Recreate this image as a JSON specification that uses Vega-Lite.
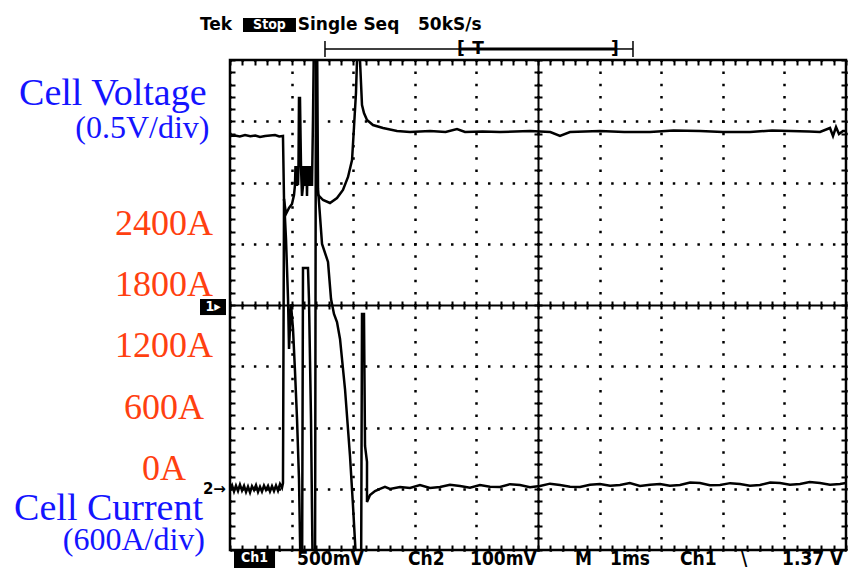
{
"$schema": "https://vega.github.io/schema/vega-lite/v6.json",
"width": 616, "height": 490,
"autosize": {"type": "none"},
"padding": {"left": 230, "top": 60, "right": 5, "bottom": 19},
"background": "white",
"config": {
  "view": {"stroke": "black", "strokeWidth": 2.5},
  "axis": {"labels": false, "domain": false, "ticks": false, "grid": false, "tickColor": "black", "tickWidth": 2, "domainColor": "black", "domainWidth": 2, "gridColor": "black", "gridOpacity": 1}
},
"datasets": {
  "ch1": [
    {"t":0,"v":1.38},{"t":0.08,"v":1.384},{"t":0.16,"v":1.376},{"t":0.244,"v":1.388},{"t":0.33,"v":1.378},{"t":0.41,"v":1.384},{"t":0.487,"v":1.371},{"t":0.57,"v":1.38},{"t":0.65,"v":1.384},{"t":0.731,"v":1.388},{"t":0.8,"v":1.376},{"t":0.86,"v":1.38},
    {"t":0.877,"v":0.857},{"t":0.909,"v":0.743},{"t":0.958,"v":0.792},{"t":1.006,"v":0.824},{"t":1.039,"v":0.898},
    {"t":1.055,"v":0.98},{"t":1.063,"v":1.135},{"t":1.071,"v":0.971},{"t":1.079,"v":1.135},{"t":1.088,"v":0.971},{"t":1.096,"v":1.135},{"t":1.104,"v":0.98},{"t":1.112,"v":1.135},
    {"t":1.12,"v":1.69},{"t":1.136,"v":1.69},{"t":1.153,"v":1.118},{"t":1.169,"v":0.89},
    {"t":1.185,"v":0.971},{"t":1.193,"v":1.135},{"t":1.201,"v":0.971},{"t":1.209,"v":1.135},{"t":1.218,"v":0.971},{"t":1.226,"v":1.135},{"t":1.234,"v":0.971},{"t":1.242,"v":1.135},{"t":1.25,"v":0.89},{"t":1.258,"v":1.135},{"t":1.266,"v":0.971},{"t":1.274,"v":1.135},{"t":1.282,"v":0.971},{"t":1.291,"v":1.135},{"t":1.299,"v":0.971},{"t":1.307,"v":1.135},{"t":1.315,"v":0.98},{"t":1.323,"v":1.118},{"t":1.331,"v":0.971},
    {"t":1.347,"v":1.51},{"t":1.364,"v":2.245},{"t":1.396,"v":2.245},{"t":1.412,"v":0.939},{"t":1.429,"v":0.898},
    {"t":1.51,"v":0.857},{"t":1.623,"v":0.833},{"t":1.737,"v":0.873},{"t":1.834,"v":0.939},{"t":1.916,"v":1.045},{"t":1.981,"v":1.184},{"t":2.013,"v":1.453},{"t":2.045,"v":1.731},{"t":2.062,"v":2.0},{"t":2.078,"v":2.33},{"t":2.094,"v":2.33},{"t":2.11,"v":2.0},{"t":2.143,"v":1.633},{"t":2.175,"v":1.567},{"t":2.224,"v":1.51},{"t":2.321,"v":1.469},{"t":2.484,"v":1.445},{"t":2.711,"v":1.42},{"t":2.922,"v":1.412},{"t":3.247,"v":1.42},{"t":3.5,"v":1.412},{"t":3.685,"v":1.437},{"t":3.815,"v":1.412},{"t":4.1,"v":1.416},{"t":4.383,"v":1.412},{"t":4.87,"v":1.42},{"t":5.2,"v":1.412},{"t":5.357,"v":1.38},{"t":5.519,"v":1.412},{"t":6.006,"v":1.42},{"t":6.4,"v":1.412},{"t":6.818,"v":1.412},{"t":7.2,"v":1.424},{"t":7.63,"v":1.42},{"t":8.0,"v":1.412},{"t":8.442,"v":1.412},{"t":8.8,"v":1.424},{"t":9.091,"v":1.42},{"t":9.4,"v":1.416},{"t":9.578,"v":1.412},{"t":9.74,"v":1.445},{"t":9.789,"v":1.38},{"t":9.838,"v":1.453},{"t":9.886,"v":1.396},{"t":9.951,"v":1.42},{"t":10.0,"v":1.42}
  ],
  "ch2": [
    {"t":0,"i":-2},{"t":0.033,"i":35},{"t":0.065,"i":-27},{"t":0.097,"i":30},{"t":0.13,"i":-22},{"t":0.162,"i":40},{"t":0.195,"i":-18},{"t":0.228,"i":28},{"t":0.26,"i":-32},{"t":0.292,"i":20},{"t":0.325,"i":-37},{"t":0.357,"i":25},{"t":0.39,"i":-12},{"t":0.422,"i":35},{"t":0.455,"i":-31},{"t":0.487,"i":18},{"t":0.519,"i":-28},{"t":0.552,"i":30},{"t":0.584,"i":-12},{"t":0.617,"i":27},{"t":0.649,"i":-27},{"t":0.682,"i":25},{"t":0.714,"i":-22},{"t":0.747,"i":32},{"t":0.779,"i":-18},{"t":0.812,"i":47},{"t":0.844,"i":10},{"t":0.86,"i":55},
    {"t":0.877,"i":2839},{"t":0.909,"i":2447},{"t":0.942,"i":1860},{"t":0.958,"i":1370},{"t":0.99,"i":1807},{"t":1.023,"i":1563},{"t":1.055,"i":1152},{"t":1.088,"i":684},{"t":1.12,"i":96},{"t":1.153,"i":-1080},{"t":1.169,"i":-1080},{"t":1.185,"i":2163},{"t":1.266,"i":2163},{"t":1.282,"i":1859},{"t":1.315,"i":684},{"t":1.347,"i":-1080},{"t":1.38,"i":-1080},{"t":1.396,"i":4600},{"t":1.412,"i":4600},{"t":1.429,"i":2937},{"t":1.494,"i":2398},{"t":1.591,"i":2222},{"t":1.64,"i":1859},{"t":1.688,"i":1712},{"t":1.737,"i":1633},{"t":1.786,"i":1467},{"t":1.867,"i":977},{"t":1.948,"i":321},{"t":1.997,"i":-169},{"t":2.045,"i":-688},{"t":2.127,"i":-1080},{"t":2.143,"i":1712},{"t":2.175,"i":1712},{"t":2.192,"i":419},{"t":2.224,"i":263},{"t":2.224,"i":-129},{"t":2.273,"i":-61},{"t":2.354,"i":-22},{"t":2.435,"i":-2},{"t":2.516,"i":18},{"t":2.597,"i":-2},{"t":2.76,"i":18},{"t":2.922,"i":8},{"t":3.084,"i":37},{"t":3.247,"i":8},{"t":3.409,"i":18},{"t":3.571,"i":40},{"t":3.734,"i":27},{"t":3.896,"i":10},{"t":4.058,"i":37},{"t":4.22,"i":20},{"t":4.383,"i":18},{"t":4.545,"i":45},{"t":4.708,"i":37},{"t":4.87,"i":15},{"t":5.032,"i":27},{"t":5.195,"i":50},{"t":5.357,"i":37},{"t":5.52,"i":20},{"t":5.682,"i":18},{"t":5.844,"i":40},{"t":6.006,"i":47},{"t":6.17,"i":30},{"t":6.331,"i":37},{"t":6.49,"i":55},{"t":6.656,"i":27},{"t":6.82,"i":40},{"t":6.981,"i":47},{"t":7.14,"i":30},{"t":7.305,"i":37},{"t":7.47,"i":60},{"t":7.63,"i":57},{"t":7.79,"i":35},{"t":7.955,"i":37},{"t":8.12,"i":55},{"t":8.279,"i":47},{"t":8.44,"i":30},{"t":8.604,"i":37},{"t":8.77,"i":60},{"t":8.929,"i":57},{"t":9.09,"i":40},{"t":9.253,"i":47},{"t":9.41,"i":65},{"t":9.578,"i":57},{"t":9.74,"i":40},{"t":9.903,"i":47},{"t":10.0,"i":57}
  ],
  "currentLabels": [
    {"label":"0A","i":0},{"label":"600A","i":600},{"label":"1200A","i":1200},{"label":"1800A","i":1800},{"label":"2400A","i":2400}
  ],
  "header": [
    {"label":"Tek","t":-0.487,"v":2.241},{"label":"Single Seq","t":1.1,"v":2.241},{"label":"50kS/s","t":3.052,"v":2.241}
  ],
  "status": [
    {"label":"500mV","t":1.088,"v":-2.122},{"label":"Ch2","t":2.89,"v":-2.122},{"label":"100mV","t":3.896,"v":-2.122},{"label":"M","t":5.601,"v":-2.122},{"label":"1ms","t":6.169,"v":-2.122},{"label":"Ch1","t":7.305,"v":-2.122},{"label":"\\","t":8.295,"v":-2.122},{"label":"1.37 V","t":8.961,"v":-2.122}
  ],
  "boxes": [
    {"name":"Stop","t":0.211,"t2":1.071,"v":2.343,"v2":2.229},
    {"name":"Ch1","t":0.065,"t2":0.731,"v":-1.992,"v2":-2.147},
    {"name":"ground1","t":-0.487,"t2":-0.065,"v":0.049,"v2":-0.082}
  ],
  "boxText": [
    {"label":"Stop","t":0.641,"v":2.286},{"label":"Ch1","t":0.398,"v":-2.065},{"label":"1▸","t":-0.276,"v":-0.016}
  ],
  "record": [
    {"seg":"record","t":1.542,"t2":3.75,"v":2.09,"v2":2.09},
    {"seg":"window","t":3.75,"t2":6.25,"v":2.09,"v2":2.09},
    {"seg":"record","t":6.25,"t2":6.542,"v":2.09,"v2":2.09},
    {"seg":"record","t":1.542,"t2":1.542,"v":2.155,"v2":2.024},
    {"seg":"record","t":6.542,"t2":6.542,"v":2.155,"v2":2.024}
  ],
  "brackets": [
    {"label":"[","t":3.75,"v":2.09},{"label":"T","t":4.026,"v":2.09},{"label":"]","t":6.25,"v":2.09}
  ],
  "titles": [
    {"label":"Cell Voltage","t":-0.38,"v":1.633},{"label":"Cell Current","t":-0.438,"v":-1.755}
  ],
  "subs": [
    {"label":"(0.5V/div)","t":-0.333,"v":1.363},{"label":"(600A/div)","t":-0.406,"v":-2.0}
  ],
  "ground2": [
    {"label":"2→","t":-0.44,"i":0}
  ]
},
"resolve": {"scale": {"y": "independent"}, "axis": {"x": "independent", "y": "independent"}},
"layer": [
  {
    "resolve": {"axis": {"x": "independent", "y": "independent"}},
    "layer": [
      {
        "data": {"name": "ch1"},
        "mark": {"type": "line", "color": "black", "strokeWidth": 2.5, "clip": true},
        "encoding": {
          "x": {"field": "t", "type": "quantitative", "scale": {"domain": [0, 10], "nice": false, "zero": false},
                "axis": {"orient": "bottom", "grid": true, "tickCount": 10, "gridDash": [2.5, 9.75], "gridDashOffset": 1.25, "gridWidth": 2.5, "title": null}},
          "y": {"field": "v", "type": "quantitative", "scale": {"domain": [-2, 2], "nice": false, "zero": false},
                "axis": {"orient": "left", "grid": true, "tickCount": 8, "gridDash": [2.5, 9.82], "gridDashOffset": 1.25, "gridWidth": 2.5, "title": null}},
          "order": {"value": null}
        }
      },
      {
        "data": {"name": "header"},
        "mark": {"type": "text", "align": "left", "baseline": "alphabetic", "font": "DejaVu Sans", "fontWeight": "bold", "fontSize": 17, "color": "black"},
        "encoding": {
          "x": {"field": "t", "type": "quantitative", "axis": {"orient": "top", "offset": -490, "ticks": true, "tickSize": 5, "tickCount": 50, "title": null}},
          "y": {"field": "v", "type": "quantitative", "axis": {"orient": "right", "offset": -616, "ticks": true, "tickSize": 5, "tickCount": 40, "title": null}},
          "text": {"field": "label"}
        }
      },
      {
        "data": {"name": "status"},
        "mark": {"type": "text", "align": "left", "baseline": "alphabetic", "font": "DejaVu Sans Condensed", "fontWeight": "bold", "fontSize": 19, "color": "black"},
        "encoding": {
          "x": {"field": "t", "type": "quantitative", "axis": {"orient": "bottom", "offset": -490, "ticks": true, "tickSize": 5, "tickCount": 50, "title": null}},
          "y": {"field": "v", "type": "quantitative", "axis": {"orient": "left", "offset": -616, "ticks": true, "tickSize": 5, "tickCount": 40, "title": null}},
          "text": {"field": "label"}
        }
      },
      {
        "data": {"name": "titles"},
        "mark": {"type": "text", "align": "right", "baseline": "alphabetic", "font": "Liberation Serif", "fontSize": 38, "color": "#1414ff"},
        "encoding": {
          "x": {"field": "t", "type": "quantitative", "axis": {"orient": "top", "offset": -245, "domain": true, "ticks": true, "tickSize": 4, "tickCount": 50, "title": null}},
          "y": {"field": "v", "type": "quantitative", "axis": {"orient": "right", "offset": -308, "domain": true, "ticks": true, "tickSize": 4, "tickCount": 40, "title": null}},
          "text": {"field": "label"}
        }
      },
      {
        "data": {"name": "subs"},
        "mark": {"type": "text", "align": "right", "baseline": "alphabetic", "font": "Liberation Serif", "fontSize": 32, "color": "#1414ff"},
        "encoding": {
          "x": {"field": "t", "type": "quantitative", "axis": {"orient": "bottom", "offset": -245, "ticks": true, "tickSize": 4, "tickCount": 50, "title": null}},
          "y": {"field": "v", "type": "quantitative", "axis": {"orient": "left", "offset": -308, "ticks": true, "tickSize": 4, "tickCount": 40, "title": null}},
          "text": {"field": "label"}
        }
      },
      {
        "data": {"name": "boxes"},
        "mark": {"type": "rect", "color": "black"},
        "encoding": {
          "x": {"field": "t", "type": "quantitative", "axis": null},
          "x2": {"field": "t2"},
          "y": {"field": "v", "type": "quantitative", "axis": null},
          "y2": {"field": "v2"}
        }
      },
      {
        "data": {"name": "boxText"},
        "mark": {"type": "text", "align": "center", "baseline": "middle", "font": "DejaVu Sans Condensed", "fontWeight": "bold", "fontSize": 14, "color": "white"},
        "encoding": {
          "x": {"field": "t", "type": "quantitative", "axis": null},
          "y": {"field": "v", "type": "quantitative", "axis": null},
          "text": {"field": "label"}
        }
      },
      {
        "data": {"name": "record"},
        "mark": {"type": "rule", "color": "black"},
        "encoding": {
          "x": {"field": "t", "type": "quantitative", "axis": null},
          "x2": {"field": "t2"},
          "y": {"field": "v", "type": "quantitative", "axis": null},
          "y2": {"field": "v2"},
          "strokeWidth": {"field": "seg", "type": "nominal", "scale": {"domain": ["record", "window"], "range": [1.5, 3]}, "legend": null}
        }
      },
      {
        "data": {"name": "brackets"},
        "mark": {"type": "text", "align": "center", "baseline": "middle", "font": "DejaVu Sans", "fontWeight": "bold", "fontSize": 17, "color": "black"},
        "encoding": {
          "x": {"field": "t", "type": "quantitative", "axis": null},
          "y": {"field": "v", "type": "quantitative", "axis": null},
          "text": {"field": "label"}
        }
      }
    ]
  },
  {
    "layer": [
      {
        "data": {"name": "ch2"},
        "mark": {"type": "line", "color": "black", "strokeWidth": 2.5, "clip": true},
        "encoding": {
          "x": {"field": "t", "type": "quantitative", "scale": {"domain": [0, 10], "nice": false, "zero": false}, "axis": null},
          "y": {"field": "i", "type": "quantitative", "scale": {"domain": [-600, 4200], "nice": false, "zero": false}, "axis": null},
          "order": {"value": null}
        }
      },
      {
        "data": {"name": "currentLabels"},
        "mark": {"type": "text", "align": "center", "baseline": "alphabetic", "dy": -9, "font": "Liberation Serif", "fontSize": 36, "color": "#ff4010"},
        "encoding": {
          "x": {"datum": -1.071, "type": "quantitative", "axis": null},
          "y": {"field": "i", "type": "quantitative", "axis": null},
          "text": {"field": "label"}
        }
      },
      {
        "data": {"name": "ground2"},
        "mark": {"type": "text", "align": "left", "baseline": "middle", "font": "DejaVu Sans", "fontWeight": "bold", "fontSize": 15, "color": "black"},
        "encoding": {
          "x": {"field": "t", "type": "quantitative", "axis": null},
          "y": {"field": "i", "type": "quantitative", "axis": null},
          "text": {"field": "label"}
        }
      }
    ]
  }
]
}
